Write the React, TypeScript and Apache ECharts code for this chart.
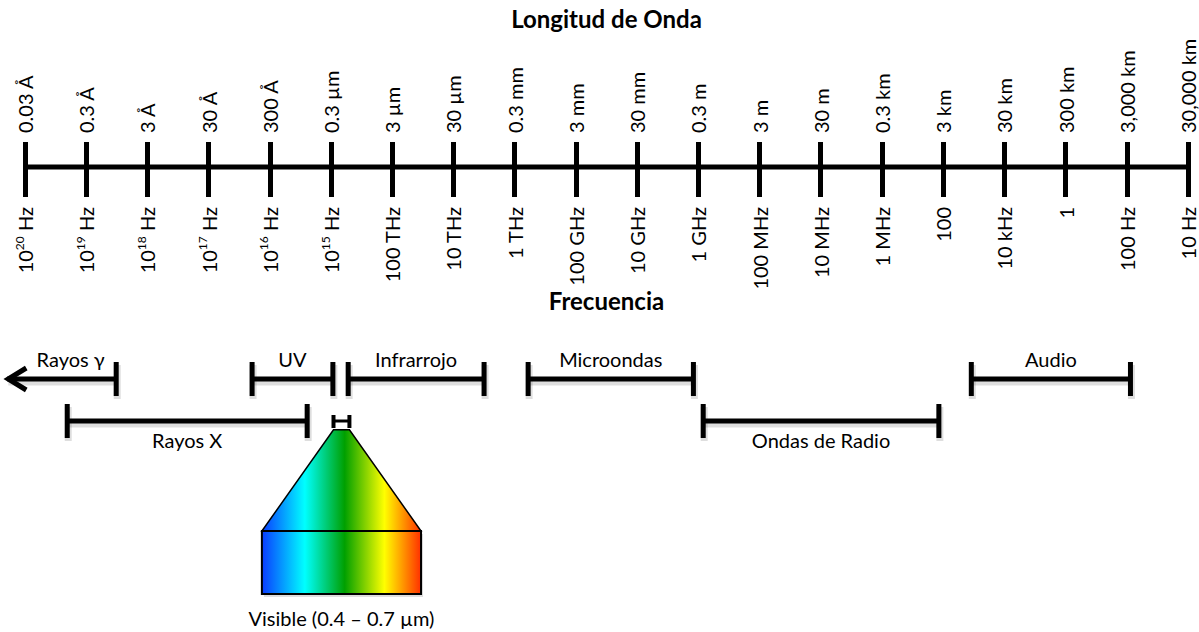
import React, { useEffect, useRef } from 'react';
import * as echarts from 'echarts';

// Scale positions (one per decade step along the spectrum)
const scalePositions = [0, 1, 2, 3, 4, 5, 6, 7, 8, 9, 10, 11, 12, 13, 14, 15, 16, 17, 18, 19];
const wavelengthLabels = [
  '0.03 Å', '0.3 Å', '3 Å', '30 Å', '300 Å', '0.3 µm', '3 µm', '30 µm', '0.3 mm', '3 mm',
  '30 mm', '0.3 m', '3 m', '30 m', '0.3 km', '3 km', '30 km', '300 km', '3,000 km', '30,000 km',
];
const frequencyBase = [
  '10', '10', '10', '10', '10', '10', '100 THz', '10 THz', '1 THz', '100 GHz',
  '10 GHz', '1 GHz', '100 MHz', '10 MHz', '1 MHz', '100', '10 kHz', '1', '100 Hz', '10 Hz',
];
const frequencyExponent = ['20', '19', '18', '17', '16', '15', '', '', '', '', '', '', '', '', '', '', '', '', '', ''];

// Bands (start / end in scale units, row 1 = upper, row 2 = lower)
const bandNames = ['Rayos γ', 'Rayos X', 'UV', 'Infrarrojo', 'Microondas', 'Ondas de Radio', 'Audio'];
const bandStart = [-0.29, 0.69, 3.71, 5.28, 8.22, 11.08, 15.46];
const bandEnd = [1.49, 4.61, 5.03, 7.5, 10.92, 14.93, 18.06];
const bandRow = [1, 2, 1, 1, 1, 2, 1];
const bandOpenLeft = [true, false, false, false, false, false, false];

// Visible window and prism
const visibleName = 'Visible (0.4 – 0.7 µm)';
const visibleBand = [5.04, 5.3];
const visibleRow = 2;
const prismBase = [3.87, 6.47];
const prismLevels = [2.21, 4.62, 6.12];
const spectrumColors = ['#0a3cff', '#00ffff', '#00a000', '#ffff00', '#ff3000'];
const spectrumStops = [0, 0.27, 0.52, 0.77, 1];

const FONT = 'Lato, "Open Sans", sans-serif';
const SHADE = 'rgba(0,0,0,0.13)';

export default function App() {
  const ref = useRef<HTMLDivElement>(null);

  useEffect(() => {
    if (!ref.current) return;
    const chart = echarts.init(ref.current, undefined, { renderer: 'svg' });

    const gradient = () =>
      new echarts.graphic.LinearGradient(
        0, 0, 1, 0,
        spectrumStops.map((o, i) => ({ offset: o, color: spectrumColors[i] }))
      );

    // straight segment with a soft offset shade beneath it
    const seg = (x1: number, y1: number, x2: number, y2: number, w: number) => [
      { type: 'line', shape: { x1: x1 + 1, y1: y1 + 3, x2: x2 + 1, y2: y2 + 3 }, style: { stroke: SHADE, lineWidth: w + 2 } },
      { type: 'line', shape: { x1, y1, x2, y2 }, style: { stroke: '#000', lineWidth: w } },
    ];

    const option: any = {
      animation: false,
      backgroundColor: '#ffffff',
      textStyle: { fontFamily: FONT },
      grid: [
        { left: 25, right: 11, top: 142, height: 55 },
        { left: 25, right: 11, top: 337, height: 294 },
      ],
      xAxis: [
        {
          type: 'value', gridIndex: 0, position: 'top', min: 0, max: 19, interval: 1,
          name: 'Longitud de Onda', nameLocation: 'middle', nameGap: 112, nameMoveOverlap: false,
          nameTextStyle: { fontFamily: FONT, fontWeight: 'bold', fontSize: 24, color: '#000' },
          axisLine: { show: false }, axisTick: { show: false }, splitLine: { show: false },
          axisLabel: {
            rotate: 90, margin: 9, fontFamily: FONT, fontSize: 20, color: '#000',
            showMinLabel: true, showMaxLabel: true, hideOverlap: false,
            formatter: (v: number) => wavelengthLabels[scalePositions.indexOf(Math.round(v))] ?? '',
          },
        },
        {
          type: 'value', gridIndex: 0, position: 'bottom', min: 0, max: 19, interval: 1,
          name: 'Frecuencia', nameLocation: 'middle', nameGap: 91, nameMoveOverlap: false,
          nameTextStyle: { fontFamily: FONT, fontWeight: 'bold', fontSize: 24, color: '#000' },
          axisLine: { show: false }, axisTick: { show: false },
          splitLine: { show: true, lineStyle: { color: '#000', width: 5 } },
          axisLabel: {
            rotate: 90, margin: 10, fontFamily: FONT, fontSize: 20, color: '#000',
            showMinLabel: true, showMaxLabel: true, hideOverlap: false,
            formatter: (v: number) => {
              const i = scalePositions.indexOf(Math.round(v));
              if (i < 0) return '';
              if (frequencyExponent[i]) return `{n|${frequencyBase[i]}}{s|${frequencyExponent[i]}}{n| Hz}`;
              return `{n|${frequencyBase[i]}}`;
            },
            rich: {
              n: { fontFamily: FONT, fontSize: 20, lineHeight: 24, color: '#000', verticalAlign: 'middle' },
              s: { fontFamily: FONT, fontSize: 12, color: '#000', verticalAlign: 'top' },
            },
          },
        },
        { type: 'value', gridIndex: 1, min: 0, max: 19, show: false },
      ],
      yAxis: [
        { type: 'value', gridIndex: 0, min: -1.2, max: 1, show: false },
        { type: 'value', gridIndex: 1, min: 0, max: 7, inverse: true, show: false },
      ],
      series: [
        {
          type: 'line', xAxisIndex: 1, yAxisIndex: 0, symbol: 'none', silent: true,
          data: [[scalePositions[0], 0], [scalePositions[scalePositions.length - 1], 0]],
          lineStyle: { color: '#000', width: 5 },
        },
        {
          type: 'custom', xAxisIndex: 2, yAxisIndex: 1, clip: false, silent: true,
          data: bandNames.map((n, i) => [bandStart[i], bandEnd[i], bandRow[i]]),
          renderItem: (params: any, api: any) => {
            const i = params.dataIndex;
            const s = api.coord([api.value(0), api.value(2)]);
            const e = api.coord([api.value(1), api.value(2)]);
            const labelStart = api.coord([Math.max(api.value(0), 0), api.value(2)]);
            const capH = 34;
            const children: any[] = [
              ...seg(s[0], s[1], e[0], e[1], 5),
              ...seg(e[0], e[1] - capH / 2, e[0], e[1] + capH / 2, 5),
            ];
            if (bandOpenLeft[i]) {
              children.push({
                type: 'polyline',
                shape: { points: [[s[0] + 19, s[1] - 11], [s[0] + 1, s[1]], [s[0] + 19, s[1] + 11]] },
                style: { stroke: '#000', lineWidth: 5, fill: null, lineJoin: 'miter' },
              });
            } else {
              children.push(...seg(s[0], s[1] - capH / 2, s[0], s[1] + capH / 2, 5));
            }
            const above = api.value(2) < 1.5;
            children.push({
              type: 'text',
              x: (labelStart[0] + e[0]) / 2,
              y: above ? s[1] - 20 : s[1] + 19,
              style: { text: bandNames[i], font: `20px ${FONT}`, fill: '#000', align: 'center', verticalAlign: 'middle' },
            });
            return { type: 'group', children };
          },
        },
        {
          type: 'custom', xAxisIndex: 2, yAxisIndex: 1, clip: false, silent: true,
          data: [[visibleBand[0], visibleBand[1], visibleRow]],
          renderItem: (params: any, api: any) => {
            const a = api.coord([visibleBand[0], visibleRow]);
            const b = api.coord([visibleBand[1], visibleRow]);
            const tl = api.coord([visibleBand[0], prismLevels[0]]);
            const tr = api.coord([visibleBand[1], prismLevels[0]]);
            const bl = api.coord([prismBase[0], prismLevels[1]]);
            const br = api.coord([prismBase[1], prismLevels[1]]);
            const rb = api.coord([prismBase[1], prismLevels[2]]);
            return {
              type: 'group',
              children: [
                { type: 'line', shape: { x1: a[0], y1: a[1], x2: b[0], y2: b[1] }, style: { stroke: '#000', lineWidth: 3 } },
                { type: 'line', shape: { x1: a[0], y1: a[1] - 6, x2: a[0], y2: a[1] + 7 }, style: { stroke: '#000', lineWidth: 4 } },
                { type: 'line', shape: { x1: b[0], y1: b[1] - 6, x2: b[0], y2: b[1] + 7 }, style: { stroke: '#000', lineWidth: 4 } },
                {
                  type: 'rect',
                  shape: { x: bl[0] + 2, y: bl[1] + 3, width: br[0] - bl[0], height: rb[1] - br[1] },
                  style: { fill: SHADE, stroke: null },
                },
                {
                  type: 'polygon',
                  shape: { points: [tl, tr, br, bl] },
                  style: { fill: gradient(), stroke: '#000', lineWidth: 1.5 },
                },
                {
                  type: 'rect',
                  shape: { x: bl[0], y: bl[1], width: br[0] - bl[0], height: rb[1] - br[1] },
                  style: { fill: gradient(), stroke: '#000', lineWidth: 2 },
                },
                {
                  type: 'text',
                  x: (bl[0] + br[0]) / 2,
                  y: rb[1] + 24,
                  style: { text: visibleName, font: `20px ${FONT}`, fill: '#000', align: 'center', verticalAlign: 'middle' },
                },
              ],
            };
          },
        },
      ],
    };

    chart.setOption(option);
    return () => chart.dispose();
  }, []);

  return (
    <div
      ref={ref}
      style={{ position: 'absolute', left: 0, top: 0, width: 1199, height: 632, background: '#fff' }}
    />
  );
}
